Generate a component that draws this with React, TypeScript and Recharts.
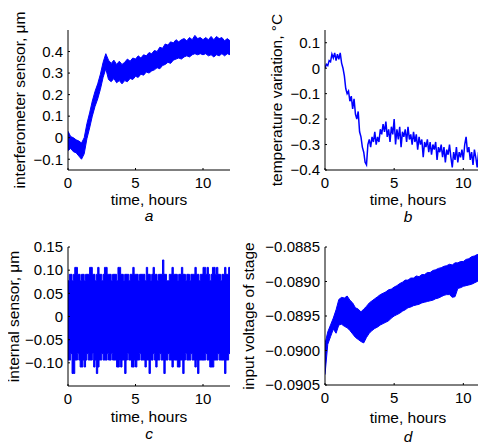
import { ComposedChart, Area, Line, XAxis, YAxis, Label } from "recharts"

const FONT = '"Liberation Sans", Arial, Helvetica, sans-serif'
const BLUE = "#0000ff"

// time grids (hours)
const hours = [
  0, 0.2, 0.4, 0.6, 0.8, 1, 1.2, 1.4, 1.6, 1.8, 2, 2.2, 2.4, 2.6, 2.8, 3, 3.2, 3.4, 3.6, 3.8,
  4, 4.2, 4.4, 4.6, 4.8, 5, 5.2, 5.4, 5.6, 5.8, 6, 6.2, 6.4, 6.6, 6.8, 7, 7.2, 7.4, 7.6, 7.8,
  8, 8.2, 8.4, 8.6, 8.8, 9, 9.2, 9.4, 9.6, 9.8, 10, 10.2, 10.4, 10.6, 10.8, 11, 11.2, 11.4, 11.6, 11.8, 12,
]
const hoursFine = [
  0, 0.1, 0.2, 0.3, 0.4, 0.5, 0.6, 0.7, 0.8, 0.9, 1, 1.1, 1.2, 1.3, 1.4, 1.5, 1.6, 1.7, 1.8, 1.9,
  2, 2.1, 2.2, 2.3, 2.4, 2.5, 2.6, 2.7, 2.8, 2.9, 3, 3.1, 3.2, 3.3, 3.4, 3.5, 3.6, 3.7, 3.8, 3.9,
  4, 4.1, 4.2, 4.3, 4.4, 4.5, 4.6, 4.7, 4.8, 4.9, 5, 5.1, 5.2, 5.3, 5.4, 5.5, 5.6, 5.7, 5.8, 5.9,
  6, 6.1, 6.2, 6.3, 6.4, 6.5, 6.6, 6.7, 6.8, 6.9, 7, 7.1, 7.2, 7.3, 7.4, 7.5, 7.6, 7.7, 7.8, 7.9,
  8, 8.1, 8.2, 8.3, 8.4, 8.5, 8.6, 8.7, 8.8, 8.9, 9, 9.1, 9.2, 9.3, 9.4, 9.5, 9.6, 9.7, 9.8, 9.9,
  10, 10.1, 10.2, 10.3, 10.4, 10.5, 10.6, 10.7, 10.8, 10.9, 11, 11.1, 11.2, 11.3, 11.4, 11.5, 11.6, 11.7, 11.8, 11.9, 12,
]

// a: interferometer sensor, um (noise band, upper / lower edge)
const interfHigh = [
  0.03, 0.005, 0.0, -0.01, -0.015, -0.025, 0.0, 0.065, 0.115, 0.17, 0.215, 0.25, 0.295, 0.35, 0.39, 0.36, 0.345, 0.36, 0.34, 0.355,
  0.34, 0.35, 0.365, 0.355, 0.37, 0.365, 0.38, 0.37, 0.385, 0.38, 0.395, 0.39, 0.405, 0.4, 0.42, 0.415, 0.435, 0.43, 0.445, 0.44,
  0.455, 0.445, 0.455, 0.46, 0.45, 0.465, 0.455, 0.475, 0.46, 0.465, 0.455, 0.465, 0.455, 0.47, 0.455, 0.47, 0.46, 0.465, 0.45, 0.46, 0.45,
]
const interfLow = [
  -0.06, -0.05, -0.065, -0.07, -0.085, -0.1, -0.075, -0.005, 0.045, 0.1, 0.145, 0.18, 0.225, 0.28, 0.32, 0.27, 0.26, 0.275, 0.255, 0.265,
  0.25, 0.265, 0.26, 0.275, 0.27, 0.285, 0.28, 0.295, 0.29, 0.305, 0.3, 0.31, 0.315, 0.325, 0.32, 0.335, 0.34, 0.35, 0.345, 0.36,
  0.365, 0.37, 0.365, 0.375, 0.38, 0.375, 0.385, 0.39, 0.385, 0.39, 0.385, 0.39, 0.38, 0.385, 0.375, 0.385, 0.38, 0.39, 0.38, 0.39, 0.385,
]

// b: temperature variation, °C
const temperature = [
  0.0, 0.015, 0.01, 0.03, 0.025, 0.055, 0.04, 0.06, 0.03, 0.055, 0.035, 0.06, 0.02, 0.0, -0.03, -0.08, -0.1, -0.09, -0.13, -0.11,
  -0.16, -0.12, -0.18, -0.2, -0.17, -0.25, -0.27, -0.31, -0.33, -0.37, -0.38, -0.3, -0.28, -0.31, -0.27, -0.29, -0.25, -0.3, -0.27, -0.29,
  -0.24, -0.26, -0.22, -0.25, -0.21, -0.27, -0.24, -0.29, -0.23, -0.26, -0.2, -0.3, -0.24, -0.28, -0.23, -0.31, -0.25, -0.27, -0.24, -0.29,
  -0.23, -0.28, -0.26, -0.3, -0.25, -0.29, -0.26, -0.32, -0.27, -0.3, -0.28, -0.35, -0.29, -0.31, -0.28, -0.33, -0.29, -0.34, -0.3, -0.32,
  -0.29, -0.36, -0.31, -0.33, -0.3, -0.35, -0.31, -0.37, -0.32, -0.34, -0.3, -0.35, -0.39, -0.33, -0.36, -0.31, -0.37, -0.33, -0.35, -0.32,
  -0.36, -0.3, -0.27, -0.33, -0.31, -0.36, -0.33, -0.38, -0.32, -0.35, -0.39, -0.33, -0.36, -0.33, -0.3, -0.34, -0.31, -0.29, -0.33, -0.31, -0.32,
]

// c: internal sensor, um (noise band, upper / lower edge)
const internalHigh = [
  0.077, 0.091, 0.091, 0.077, 0.091, 0.106, 0.106, 0.091, 0.091, 0.077,
  0.091, 0.091, 0.077, 0.091, 0.091, 0.091, 0.106, 0.106, 0.091, 0.091,
  0.077, 0.091, 0.106, 0.091, 0.091, 0.077, 0.091, 0.106, 0.106, 0.091,
  0.091, 0.091, 0.077, 0.091, 0.091, 0.091, 0.077, 0.106, 0.106, 0.091,
  0.091, 0.077, 0.091, 0.091, 0.091, 0.077, 0.091, 0.091, 0.106, 0.091,
  0.091, 0.091, 0.077, 0.091, 0.091, 0.091, 0.091, 0.077, 0.106, 0.091,
  0.091, 0.077, 0.091, 0.106, 0.091, 0.091, 0.077, 0.091, 0.091, 0.091,
  0.122, 0.091, 0.091, 0.077, 0.077, 0.091, 0.091, 0.106, 0.091, 0.091,
  0.091, 0.077, 0.091, 0.091, 0.106, 0.091, 0.091, 0.077, 0.091, 0.091,
  0.077, 0.091, 0.091, 0.091, 0.106, 0.091, 0.091, 0.077, 0.091, 0.091,
  0.106, 0.106, 0.091, 0.106, 0.091, 0.077, 0.091, 0.106, 0.106, 0.091,
  0.106, 0.091, 0.091, 0.077, 0.091, 0.091, 0.106, 0.091, 0.091, 0.106, 0.091,
]
const internalLow = [
  -0.094, -0.094, -0.08, -0.123, -0.123, -0.094, -0.094, -0.08, -0.094, -0.109,
  -0.109, -0.094, -0.109, -0.094, -0.08, -0.094, -0.094, -0.094, -0.08, -0.109,
  -0.094, -0.123, -0.109, -0.094, -0.094, -0.08, -0.094, -0.094, -0.094, -0.08,
  -0.094, -0.094, -0.08, -0.094, -0.094, -0.094, -0.109, -0.109, -0.094, -0.109,
  -0.094, -0.094, -0.123, -0.094, -0.08, -0.094, -0.094, -0.109, -0.109, -0.094,
  -0.109, -0.094, -0.094, -0.08, -0.094, -0.094, -0.094, -0.109, -0.094, -0.094,
  -0.123, -0.094, -0.094, -0.08, -0.094, -0.109, -0.094, -0.094, -0.08, -0.094,
  -0.094, -0.123, -0.094, -0.094, -0.08, -0.094, -0.094, -0.109, -0.094, -0.094,
  -0.094, -0.109, -0.109, -0.094, -0.094, -0.123, -0.094, -0.08, -0.094, -0.094,
  -0.094, -0.08, -0.094, -0.094, -0.109, -0.094, -0.123, -0.094, -0.094, -0.094,
  -0.094, -0.094, -0.08, -0.094, -0.094, -0.109, -0.109, -0.109, -0.094, -0.094,
  -0.094, -0.08, -0.094, -0.094, -0.094, -0.094, -0.123, -0.094, -0.094, -0.08, -0.08,
]

// d: input voltage of stage (noise band, upper / lower edge)
const voltageHigh = [
  -0.0899, -0.08973, -0.08963, -0.08953, -0.08941, -0.08926, -0.08923, -0.08924, -0.08921, -0.08927,
  -0.08931, -0.08938, -0.0894, -0.08944, -0.0894, -0.08936, -0.08931, -0.08928, -0.08925, -0.08922,
  -0.08919, -0.08917, -0.08915, -0.08912, -0.08911, -0.08908, -0.08906, -0.08903, -0.08901, -0.08898,
  -0.08898, -0.08895, -0.08895, -0.08892, -0.08893, -0.0889, -0.0889, -0.08887, -0.08887, -0.08884,
  -0.08883, -0.08881, -0.0888, -0.08878, -0.08877, -0.08875, -0.08876, -0.08873, -0.08873, -0.08871,
  -0.08871, -0.08868, -0.08867, -0.08864, -0.08863, -0.08861, -0.0886, -0.08857, -0.08856, -0.08859, -0.0886,
]
const voltageLow = [
  -0.09035, -0.08991, -0.0898, -0.08969, -0.08975, -0.08963, -0.08962, -0.08965, -0.08967, -0.08971,
  -0.08976, -0.08981, -0.08984, -0.08987, -0.08989, -0.08981, -0.08975, -0.08971, -0.08968, -0.08966,
  -0.08963, -0.08961, -0.08959, -0.08957, -0.08953, -0.0895, -0.08948, -0.08946, -0.08943, -0.08941,
  -0.08938, -0.08937, -0.08935, -0.08934, -0.08933, -0.08931, -0.0893, -0.08929, -0.08928, -0.08927,
  -0.08925, -0.08924, -0.08922, -0.0892, -0.08919, -0.08919, -0.08923, -0.08922, -0.0891, -0.08909,
  -0.08907, -0.08906, -0.08905, -0.08904, -0.08902, -0.089, -0.08898, -0.08896, -0.08894, -0.08893, -0.08891,
]

const interfRows = hours.map((t, i) => ({ t, range: [interfLow[i], interfHigh[i]] }))
const tempRows = hoursFine.map((t, i) => ({ t, v: temperature[i] }))
const internalRows = hoursFine.map((t, i) => ({ t, range: [internalLow[i], internalHigh[i]] }))
const voltageRows = hours.map((t, i) => ({ t, range: [voltageLow[i], voltageHigh[i]] }))

const tickStyle = { fontSize: 15, fill: "#000", fontFamily: FONT }
const labelStyle = { fontSize: 15.5, fill: "#000", fontFamily: FONT }

const fmt = (digits: number) => (v: number) =>
  v === 0 ? "0" : (v < 0 ? "\u2212" : "") + Math.abs(v).toFixed(digits)

type PanelProps = {
  left: number
  top: number
  width: number
  right: number
  yWidth: number
  marginTop: number
  plotHeight: number
  data: any[]
  yLabel: string
  yLabelOffset: number
  yDomain: [number, number]
  yTicks: number[]
  digits: number
  letter: string
  xLabelOffset: number
  letterOffset: number
  children: React.ReactNode
}

function Panel(p: PanelProps) {
  const height = 222
  return (
    <div style={{ position: "absolute", left: p.left, top: p.top }}>
      <ComposedChart
        width={p.width}
        height={height}
        data={p.data}
        margin={{ top: p.marginTop, right: p.right, bottom: 0, left: 0 }}
      >
        <XAxis
          type="number"
          dataKey="t"
          domain={[0, 12]}
          ticks={[0, 5, 10]}
          interval={0}
          allowDataOverflow
          height={height - p.marginTop - p.plotHeight}
          tickSize={-2}
          tickMargin={9}
          tick={tickStyle}
          axisLine={{ stroke: "#000" }}
          tickLine={{ stroke: "#000" }}
        >
          <Label value="time, hours" position="insideBottom" offset={p.xLabelOffset} style={labelStyle} />
          <Label value={p.letter} position="insideBottom" offset={p.letterOffset} style={{ ...labelStyle, fontStyle: "italic" }} />
        </XAxis>
        <YAxis
          type="number"
          domain={p.yDomain}
          ticks={p.yTicks}
          interval={0}
          allowDataOverflow
          width={p.yWidth}
          tickSize={-2}
          tickMargin={7}
          tick={tickStyle}
          tickFormatter={fmt(p.digits)}
          axisLine={{ stroke: "#000" }}
          tickLine={{ stroke: "#000" }}
          label={{
            value: p.yLabel,
            angle: -90,
            position: "insideLeft",
            offset: p.yLabelOffset,
            style: { ...labelStyle, textAnchor: "middle" },
          }}
        />
        {p.children}
      </ComposedChart>
    </div>
  )
}

export default function App() {
  // page-sized canvas, pulled over the body margin so panels sit in page pixels
  return (
    <div style={{ position: "relative", left: -8, top: -8, width: 486, height: 444, overflow: "hidden", background: "#fff" }}>
      <Panel
        left={0} top={8} width={243} right={13} yWidth={68} marginTop={22} plotHeight={140}
        data={interfRows} yLabel="interferometer sensor, μm" yLabelOffset={19}
        yDomain={[-0.15, 0.5]} yTicks={[-0.1, 0, 0.1, 0.2, 0.3, 0.4]} digits={1}
        letter="a" xLabelOffset={25} letterOffset={9}
      >
        <Area type="linear" dataKey="range" stroke={BLUE} strokeWidth={1} fill={BLUE} fillOpacity={1} dot={false} activeDot={false} isAnimationActive={false} />
      </Panel>
      <Panel
        left={235} top={8} width={261} right={5} yWidth={90} marginTop={22} plotHeight={140}
        data={tempRows} yLabel="temperature variation, °C" yLabelOffset={41}
        yDomain={[-0.4, 0.15]} yTicks={[-0.4, -0.3, -0.2, -0.1, 0, 0.1]} digits={1}
        letter="b" xLabelOffset={25} letterOffset={8}
      >
        <Line type="linear" dataKey="v" stroke={BLUE} strokeWidth={1.5} dot={false} activeDot={false} isAnimationActive={false} />
      </Panel>
      <Panel
        left={0} top={222} width={243} right={13} yWidth={68} marginTop={25} plotHeight={139}
        data={internalRows} yLabel="internal sensor, μm" yLabelOffset={13}
        yDomain={[-0.15, 0.15]} yTicks={[-0.1, -0.05, 0, 0.05, 0.1, 0.15]} digits={2}
        letter="c" xLabelOffset={22} letterOffset={5}
      >
        <Area type="stepAfter" dataKey="range" stroke={BLUE} strokeWidth={1} fill={BLUE} fillOpacity={1} dot={false} activeDot={false} isAnimationActive={false} />
      </Panel>
      <Panel
        left={235} top={222} width={261} right={5} yWidth={90} marginTop={25} plotHeight={138}
        data={voltageRows} yLabel="input voltage of stage" yLabelOffset={13}
        yDomain={[-0.0905, -0.0885]} yTicks={[-0.0905, -0.09, -0.0895, -0.089, -0.0885]} digits={4}
        letter="d" xLabelOffset={21} letterOffset={2}
      >
        <Area type="linear" dataKey="range" stroke={BLUE} strokeWidth={1} fill={BLUE} fillOpacity={1} dot={false} activeDot={false} isAnimationActive={false} />
      </Panel>
    </div>
  )
}
